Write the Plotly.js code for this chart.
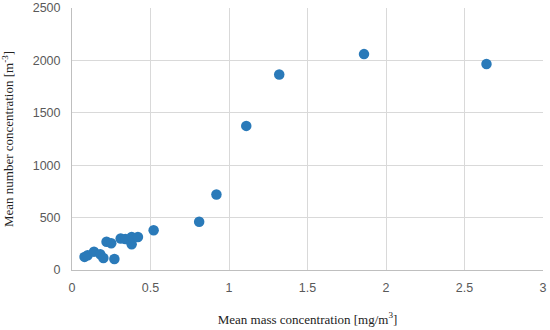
<!DOCTYPE html>
<html><head><meta charset="utf-8">
<script src="https://cdn.plot.ly/plotly-3.0.1.min.js"></script>
<style>html,body{margin:0;padding:0;background:#fff}#c{width:550px;height:330px}</style>
</head><body><div id="c"></div>
<script>
const massConc = [0.08,0.10,0.14,0.18,0.20,0.27,0.22,0.25,0.31,0.34,0.38,0.38,0.42,0.52,0.81,0.92,1.11,1.32,1.86,2.64];
const numberConc = [125,140,175,150,115,105,270,255,300,295,245,315,315,380,460,720,1375,1865,2060,1965];
const xTicks = [0,0.5,1,1.5,2,2.5,3];
const xTickText = ['0','0.5','1','1.5','2','2.5','3'];
const yTicks = [0,500,1000,1500,2000,2500];

Plotly.newPlot('c', [{
  x: massConc, y: numberConc, type: 'scatter', mode: 'markers',
  marker: {color: '#2a7ab9', size: 10.5}
}], {
  width: 550, height: 330,
  margin: {l: 72, r: 7, t: 8, b: 60},
  paper_bgcolor: '#fff', plot_bgcolor: '#fff',
  showlegend: false,
  font: {family: 'Liberation Sans, Arial, sans-serif', size: 12.5, color: '#595959'},
  xaxis: {
    range: [0, 3], tickvals: xTicks, ticktext: xTickText,
    showgrid: true, gridcolor: '#d9d9d9', zeroline: false,
    showline: true, linecolor: '#bfbfbf', ticks: '', ticklabelstandoff: 6,
    title: {text: 'Mean mass concentration [mg/m<sup>3</sup>]', standoff: 20,
      font: {family: 'Liberation Serif, Times New Roman, serif', size: 13, color: '#222'}}
  },
  yaxis: {
    range: [0, 2500], tickvals: yTicks,
    showgrid: true, gridcolor: '#d9d9d9', zeroline: false,
    showline: true, linecolor: '#bfbfbf', ticks: '', ticklabelstandoff: 8,
    title: {text: 'Mean number concentration [m<sup>-3</sup>]', standoff: 16,
      font: {family: 'Liberation Serif, Times New Roman, serif', size: 13, color: '#222'}}
  }
}, {staticPlot: true});
</script></body></html>
